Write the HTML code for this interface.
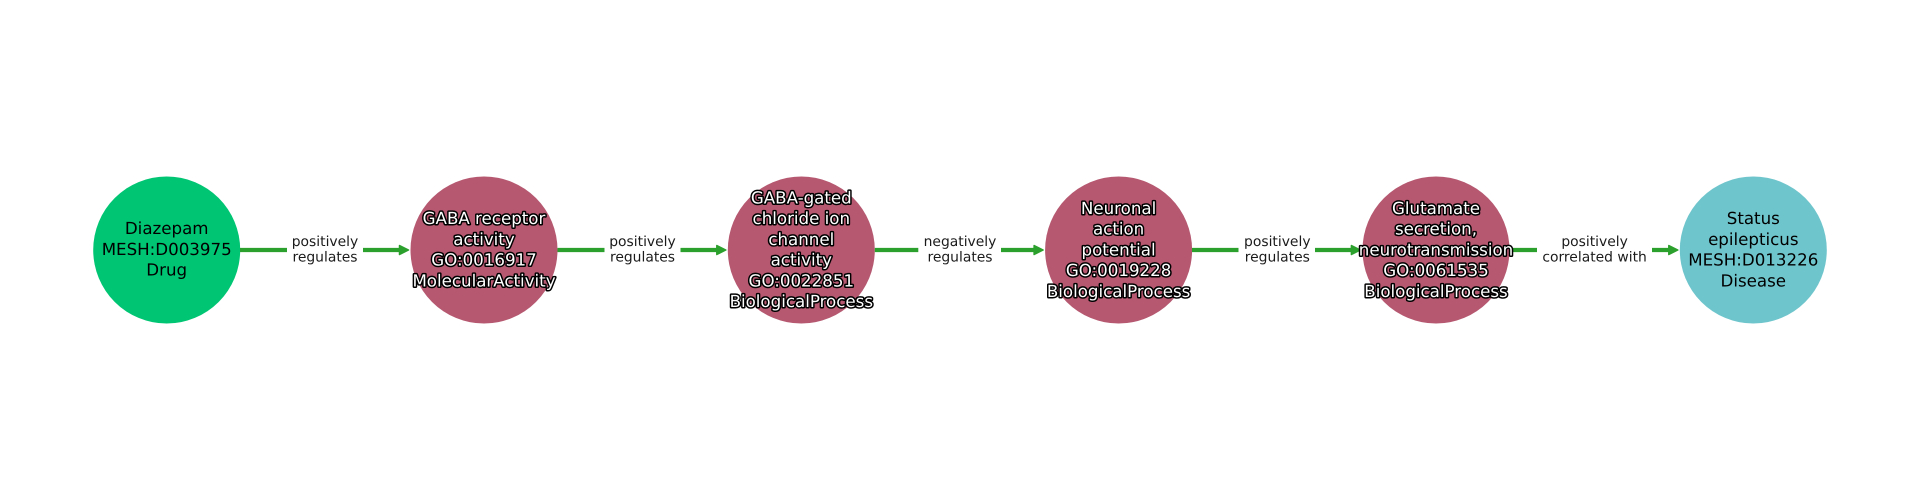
<!DOCTYPE html>
<html><head><meta charset="utf-8"><style>
html,body{margin:0;padding:0;background:#fff;width:1920px;height:500px;overflow:hidden}
svg{display:block}
text{font-family:"DejaVu Sans",sans-serif;text-anchor:middle;text-rendering:geometricPrecision}
.n{font-size:16.67px;fill:#000}
.h{font-size:16.67px;fill:#fff;stroke:#000;stroke-width:3px;paint-order:stroke;stroke-linejoin:round}
.e{font-size:13.89px;fill:#1a1a1a}
.l{stroke:#2ca02c;stroke-width:4.2;fill:none}
.a{fill:#2ca02c;stroke:#2ca02c;stroke-width:1.5;stroke-linejoin:round}
</style></head><body>
<svg width="1920" height="500" viewBox="0 0 1920 500" xmlns="http://www.w3.org/2000/svg">
<rect width="1920" height="500" fill="#fff"/>
<circle cx="166.7" cy="250" r="73.5" fill="#00c573"/>
<circle cx="484" cy="250" r="73.5" fill="#b55870"/>
<circle cx="801.3" cy="250" r="73.5" fill="#b55870"/>
<circle cx="1118.6" cy="250" r="73.5" fill="#b55870"/>
<circle cx="1436" cy="250" r="73.5" fill="#b55870"/>
<circle cx="1753.3" cy="250" r="73.5" fill="#6fc5cc"/>

<path class="l" d="M240 250H287M363 250H402"/><path class="a" d="M399.500 245.500L408.500 250L399.500 254.500Z"/>
<path class="l" d="M557.500 250H604.500M680.500 250H719"/><path class="a" d="M716.800 245.500L725.800 250L716.800 254.500Z"/>
<path class="l" d="M874.800 250H918.300M1001 250H1036.500"/><path class="a" d="M1034.100 245.500L1043.100 250L1034.100 254.500Z"/>
<path class="l" d="M1192 250H1238.500M1315 250H1354"/><path class="a" d="M1351.400 245.500L1360.400 250L1351.400 254.500Z"/>
<path class="l" d="M1509.500 250H1537M1652 250H1671"/><path class="a" d="M1668.800 245.500L1677.800 250L1668.800 254.500Z"/>

<text class="e" x="325" y="246">positively</text><text class="e" x="325" y="261.500">regulates</text>
<text class="e" x="642.500" y="246">positively</text><text class="e" x="642.500" y="261.500">regulates</text>
<text class="e" x="960" y="246">negatively</text><text class="e" x="960" y="261.500">regulates</text>
<text class="e" x="1277.300" y="246">positively</text><text class="e" x="1277.300" y="261.500">regulates</text>
<text class="e" x="1594.600" y="246">positively</text><text class="e" x="1594.600" y="261.500">correlated with</text>

<text class="n" x="166.700" y="234">Diazepam</text>
<text class="n" x="166.700" y="254.800">MESH:D003975</text>
<text class="n" x="166.700" y="275.500">Drug</text>

<text class="h" x="484" y="224.200">GABA receptor</text>
<text class="h" x="484" y="245">activity</text>
<text class="h" x="484" y="265.700">GO:0016917</text>
<text class="h" x="484" y="286.400">MolecularActivity</text>

<text class="h" x="801.300" y="203.400">GABA-gated</text>
<text class="h" x="801.300" y="224.200">chloride ion</text>
<text class="h" x="801.300" y="245">channel</text>
<text class="h" x="801.300" y="265.700">activity</text>
<text class="h" x="801.300" y="286.400">GO:0022851</text>
<text class="h" x="801.300" y="307.200">BiologicalProcess</text>

<text class="h" x="1118.600" y="213.800">Neuronal</text>
<text class="h" x="1118.600" y="234.500">action</text>
<text class="h" x="1118.600" y="255.300">potential</text>
<text class="h" x="1118.600" y="276">GO:0019228</text>
<text class="h" x="1118.600" y="296.800">BiologicalProcess</text>

<text class="h" x="1436" y="213.800">Glutamate</text>
<text class="h" x="1436" y="234.500">secretion,</text>
<text class="h" x="1436" y="255.300">neurotransmission</text>
<text class="h" x="1436" y="276">GO:0061535</text>
<text class="h" x="1436" y="296.800">BiologicalProcess</text>

<text class="n" x="1753.300" y="224.200">Status</text>
<text class="n" x="1753.300" y="245">epilepticus</text>
<text class="n" x="1753.300" y="265.700">MESH:D013226</text>
<text class="n" x="1753.300" y="286.400">Disease</text>
</svg>
</body></html>
